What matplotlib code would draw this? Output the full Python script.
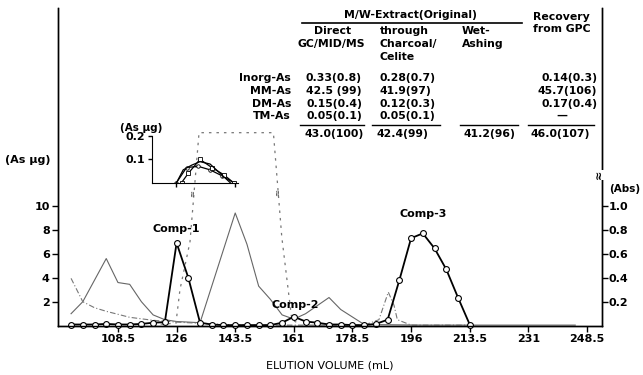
import matplotlib
matplotlib.use('Agg')
import matplotlib.pyplot as plt

# ---- data ----
# arsenic (ug) per 3.5 mL fraction, GC/MID/MS
frac_ml = [94.5, 98, 101.5, 105, 108.5, 112, 115.5, 119, 122.5, 126, 129.5, 133,
           136.5, 140, 143.5, 147, 150.5, 154, 157.5, 161, 164.5, 168, 171.5, 175,
           178.5, 182, 185.5, 189, 192.5, 196, 199.5, 203, 206.5, 210, 213.5]
as_ug = [0.1, 0.1, 0.1, 0.15, 0.1, 0.1, 0.15, 0.25, 0.3, 6.9, 4.0, 0.25,
         0.1, 0.05, 0.05, 0.05, 0.05, 0.05, 0.25, 0.75, 0.35, 0.25, 0.1, 0.1,
         0.05, 0.05, 0.15, 0.5, 3.8, 7.3, 7.7, 6.45, 4.7, 2.35, 0.1]

# absorbance traces (right axis)
abs1_ml = [94.5, 98, 105, 108.5, 112, 115.5, 119, 122.5, 126, 133, 143.5, 147,
           150.5, 154, 157.5, 161, 164.5, 171.5, 175, 182, 200, 230, 245]
abs1 = [0.10, 0.20, 0.56, 0.36, 0.345, 0.20, 0.09, 0.05, 0.035, 0.025, 0.94, 0.68,
        0.33, 0.22, 0.09, 0.055, 0.10, 0.235, 0.135, 0.01, 0.005, 0.005, 0.005]

abs2_ml = [94.5, 98, 101.5, 105, 112, 119, 126, 133, 140, 150, 182, 186.4, 189.2,
           190.9, 191.9, 196, 213.5]
abs2 = [0.395, 0.20, 0.15, 0.12, 0.07, 0.045, 0.03, 0.02, 0.01, 0.005, 0.005, 0.05,
        0.28, 0.17, 0.05, 0.005, 0.005]

# off-scale peak (drawn through a scale break)
abs3_ml = [119, 125.8, 127, 130, 132.7, 154.9, 157.4, 160.4, 163]
abs3 = [0.01, 0.02, 0.3, 0.7, 1.61, 1.61, 0.74, 0.05, 0.01]

# inset, As (ug) around Comp-1
ins_a_ml = [126, 129, 132.5, 136, 139.5, 143]
ins_a = [0.0, 0.065, 0.07, 0.055, 0.03, 0.0]
ins_b_ml = [127.5, 129.5, 133, 136.5, 140, 143]
ins_b = [0.0, 0.04, 0.10, 0.065, 0.035, 0.0]
ins_c_ml = [126, 128, 130.5, 133, 136, 139, 142]
ins_c = [0.0, 0.055, 0.075, 0.09, 0.08, 0.04, 0.0]

xticks = [108.5, 126, 143.5, 161, 178.5, 196, 213.5, 231, 248.5]
yticks_as = [2, 4, 6, 8, 10]
yticks_abs = [0.2, 0.4, 0.6, 0.8, 1.0]

# table in the upper part of the figure
rows = ['Inorg-As', 'MM-As', 'DM-As', 'TM-As']
direct = ['0.33(0.8)', '42.5 (99)', '0.15(0.4)', '0.05(0.1)']
charcoal = ['0.28(0.7)', '41.9(97)', '0.12(0.3)', '0.05(0.1)']
gpc = ['0.14(0.3)', '45.7(106)', '0.17(0.4)', '\u2014']
totals = ['43.0(100)', '42.4(99)', '41.2(96)', '46.0(107)']

plt.rcParams['font.family'] = ['DejaVu Sans']
plt.rcParams['font.weight'] = 'bold'

W, H = 643, 375
fig = plt.figure(figsize=(W / 100, H / 100), dpi=100)


def fx(x):
    return x / W


def fy(y):
    return 1 - y / H


def ftext(x, y, s, **kw):
    kw.setdefault('fontsize', 7.8)
    kw.setdefault('va', 'center')
    fig.text(fx(x), fy(y), s, **kw)


def fline(x0, x1, y, lw=1.0):
    fig.add_artist(plt.Line2D([fx(x0), fx(x1)], [fy(y), fy(y)], color='black',
                              lw=lw, transform=fig.transFigure))


ax = fig.add_axes([fx(58), fy(325.7), fx(601.7) - fx(58), fy(8) - fy(325.7)])
ax2 = ax.twinx()
ax.set_zorder(ax2.get_zorder() + 1)
ax.patch.set_visible(False)

ax.set_xlim(90.6, 252.9)
ax.set_ylim(0, 26.5)
ax2.set_ylim(0, 2.65)

ax2.plot(abs1_ml, abs1, color='#666666', lw=0.8)
ax2.plot(abs2_ml, abs2, color='#777777', lw=0.8, linestyle=(0, (5, 2, 1, 2)))
ax2.plot(abs3_ml, abs3, color='#777777', lw=0.9, linestyle=(0, (2, 4)))

ax.plot(frac_ml, as_ug, color='black', lw=1.3, marker='o', markersize=4.2,
        markerfacecolor='white', markeredgecolor='black', markeredgewidth=0.8,
        clip_on=False)

for a in (ax, ax2):
    a.spines['top'].set_visible(False)
    a.spines['left'].set_linewidth(1.0)
    a.spines['right'].set_linewidth(1.0)
    a.spines['bottom'].set_linewidth(1.0)

ax.set_xticks(xticks)
ax.set_xticklabels([str(t) for t in xticks])
ax.set_yticks(yticks_as)
ax.set_yticklabels([str(t) for t in yticks_as])
ax2.set_yticks(yticks_abs)
ax2.set_yticklabels(['%.1f' % t for t in yticks_abs])
ax.tick_params(axis='both', direction='out', length=4, width=1, labelsize=8, pad=2)
ax2.tick_params(axis='y', direction='out', length=4, width=1, labelsize=8, pad=1)
ax.set_xlabel('ELUTION VOLUME (mL)', fontsize=8, labelpad=12)

ax.text(126, 8.1, 'Comp-1', ha='center', va='center', fontsize=8)
ax.text(161.3, 1.7, 'Comp-2', ha='center', va='center', fontsize=8)
ax.text(199.6, 9.3, 'Comp-3', ha='center', va='center', fontsize=8)

# scale-break marks
brk = dict(ha='center', va='center', fontsize=8, rotation=90, color='black',
           bbox=dict(facecolor='white', edgecolor='none', pad=0.3))
ax.text(252.0, 12.6, '\u2248', **brk)
ax.text(130.8, 11.0, '\u2248', fontsize=6, ha='center', va='center', rotation=90, color='#555555')
ax.text(156.0, 11.1, '\u2248', fontsize=6, ha='center', va='center', rotation=90, color='#555555')

ftext(5, 160, '(As \u00b5g)', ha='left', fontsize=8)
ftext(609, 189, '(Abs)', ha='left', fontsize=7.5)

# inset
ins = fig.add_axes([fx(152.3), fy(182.7), fx(238.3) - fx(152.3), fy(136) - fy(182.7)])
ins.patch.set_visible(False)
ins.plot(ins_a_ml, ins_a, color='black', lw=0.9, marker='o', markersize=2.5,
         markerfacecolor='white', markeredgewidth=0.6)
ins.plot(ins_b_ml, ins_b, color='black', lw=0.9, marker='s', markersize=2.5,
         markerfacecolor='white', markeredgewidth=0.6)
ins.plot(ins_c_ml, ins_c, color='black', lw=0.9)
ins.set_xlim(118.8, 144.4)
ins.set_ylim(0, 0.2)
ins.spines['top'].set_visible(False)
ins.spines['right'].set_visible(False)
ins.set_xticks([126, 143.5])
ins.set_xticklabels([])
ins.set_yticks([0.1, 0.2])
ins.set_yticklabels(['0.1', '0.2'])
ins.tick_params(direction='out', length=3, width=1, labelsize=8, pad=2)
ftext(120, 128, '(As \u00b5g)', ha='left', fontsize=7.5)

# table
ftext(410, 15, 'M/W-Extract(Original)', ha='center')
fline(302, 522, 22.5, lw=1.2)
ftext(333, 31, 'Direct', ha='center')
ftext(331, 44, 'GC/MID/MS', ha='center')
for i, s in enumerate(['through', 'Charcoal/', 'Celite']):
    ftext(380, 31 + 13 * i, s, ha='left')
for i, s in enumerate(['Wet-', 'Ashing']):
    ftext(462, 31 + 13 * i, s, ha='left')
for i, s in enumerate(['Recovery', 'from GPC']):
    ftext(533, 17 + 12 * i, s, ha='left')

row_y = [78, 91, 104, 116]
for y, r, a, b, c in zip(row_y, rows, direct, charcoal, gpc):
    ftext(291, y, r, ha='right')
    ftext(362, y, a, ha='right')
    ftext(380, y, b, ha='left')
    if c == '\u2014':
        ftext(562, y, c, ha='center')
    else:
        ftext(597, y, c, ha='right')

for x0, x1 in [(300, 364), (372, 440), (460, 518), (528, 594)]:
    fline(x0, x1, 124.5)
for xc, s in zip([334, 402, 489, 560], totals):
    ftext(xc, 134, s, ha='center')

fig.savefig('out.png', dpi=100)
